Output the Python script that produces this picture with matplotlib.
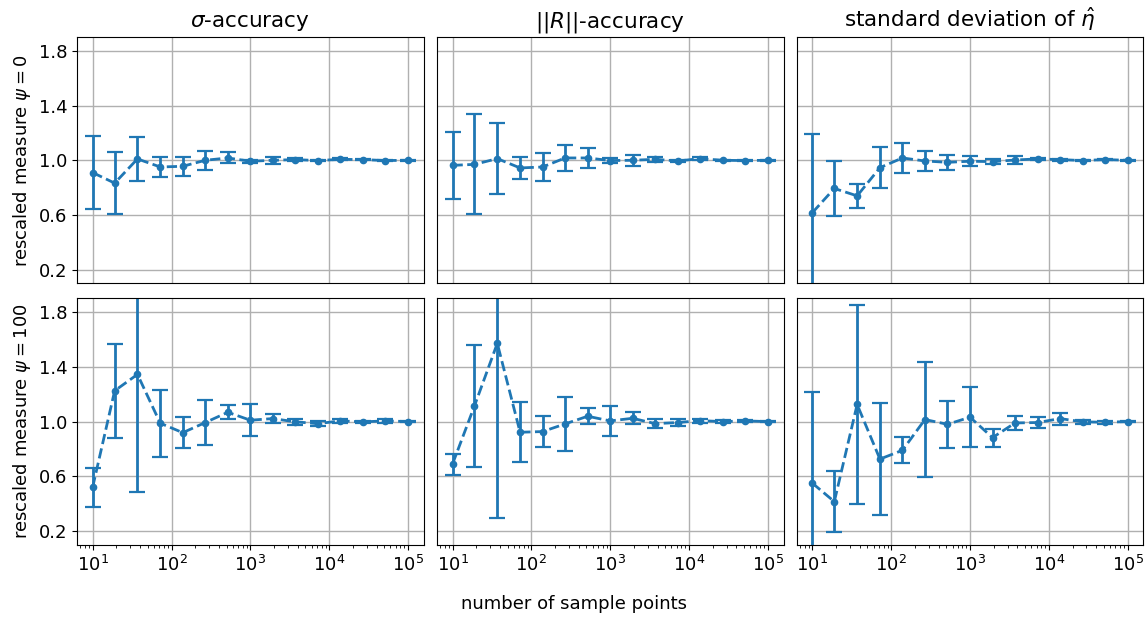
import numpy as np
import matplotlib
matplotlib.use("Agg")
import matplotlib.pyplot as plt

# sample sizes (log-spaced from 10 to 1e5)
n_samples = [10, 19, 37, 72, 139, 268, 518, 1000, 1931, 3728, 7197, 13895, 26827, 51795, 100000]

titles = [r"$\sigma$-accuracy", r"$||R||$-accuracy", r"standard deviation of $\hat{\eta}$"]
psi_values = [0, 100]

# psi = 0
sigma_psi0 = [0.91, 0.833, 1.01, 0.951, 0.956, 1.0, 1.017, 0.993, 1.0, 1.005, 0.998, 1.007, 1.005, 0.998, 1.0]
sigma_psi0_err = [0.264, 0.227, 0.162, 0.07, 0.071, 0.07, 0.04, 0.01, 0.027, 0.01, 0.005, 0.008, 0.005, 0.004, 0.003]
rnorm_psi0 = [0.963, 0.97, 1.012, 0.944, 0.951, 1.017, 1.017, 0.998, 1.0, 1.007, 0.995, 1.012, 1.0, 0.998, 1.0]
rnorm_psi0_err = [0.247, 0.366, 0.262, 0.083, 0.105, 0.095, 0.072, 0.02, 0.04, 0.02, 0.005, 0.01, 0.005, 0.004, 0.003]
eta_psi0 = [0.617, 0.794, 0.74, 0.946, 1.017, 0.995, 0.985, 0.993, 0.99, 1.002, 1.01, 1.005, 0.998, 1.005, 1.0]
eta_psi0_err = [0.572, 0.201, 0.09, 0.15, 0.107, 0.074, 0.054, 0.035, 0.02, 0.032, 0.01, 0.007, 0.005, 0.004, 0.003]

# psi = 100
sigma_psi100 = [0.521, 1.225, 1.345, 0.988, 0.919, 0.993, 1.068, 1.01, 1.022, 0.998, 0.985, 1.005, 0.998, 1.005, 1.0]
sigma_psi100_err = [0.142, 0.344, 0.861, 0.246, 0.111, 0.166, 0.05, 0.118, 0.034, 0.02, 0.02, 0.012, 0.008, 0.012, 0.005]
rnorm_psi100 = [0.689, 1.115, 1.572, 0.922, 0.927, 0.983, 1.039, 1.005, 1.024, 0.985, 0.993, 1.007, 1.0, 1.005, 1.0]
rnorm_psi100_err = [0.076, 0.445, 1.276, 0.218, 0.114, 0.2, 0.059, 0.109, 0.043, 0.032, 0.025, 0.015, 0.012, 0.01, 0.006]
eta_psi100 = [0.55, 0.415, 1.125, 0.726, 0.79, 1.015, 0.98, 1.032, 0.883, 0.99, 0.993, 1.022, 0.998, 0.995, 1.0]
eta_psi100_err = [0.668, 0.225, 0.724, 0.41, 0.094, 0.42, 0.174, 0.218, 0.066, 0.05, 0.042, 0.044, 0.015, 0.01, 0.005]

results = [
    [(sigma_psi0, sigma_psi0_err), (rnorm_psi0, rnorm_psi0_err), (eta_psi0, eta_psi0_err)],
    [(sigma_psi100, sigma_psi100_err), (rnorm_psi100, rnorm_psi100_err), (eta_psi100, eta_psi100_err)],
]

plt.rcParams['font.family'] = 'DejaVu Sans'
plt.rcParams['font.size'] = 13

fig, axes = plt.subplots(2, 3, figsize=(11.48, 6.19), dpi=100, sharex=True, sharey=True)

for i, row in enumerate(results):
    for j, (vals, errs) in enumerate(row):
        ax = axes[i, j]
        ax.errorbar(n_samples, vals, yerr=errs, fmt='--o', color='tab:blue',
                    markersize=4.5, capsize=6, linewidth=2, elinewidth=2, capthick=1.6)
        ax.set_xscale('log')
        ax.grid(True, color='#b0b0b0', linewidth=1)
        ax.set_axisbelow(True)
        if i == 0:
            ax.set_title(titles[j], fontsize=15.5, pad=7)
            ax.tick_params(axis='x', which='both', bottom=False)
        if j == 0:
            ax.set_ylabel(rf"rescaled measure $\psi = {psi_values[i]}$")
        else:
            ax.tick_params(axis='y', which='both', left=False)

# 5% log margin around 10 .. 1e5
axes[0, 0].set_xlim(10 ** 0.8, 10 ** 5.2)
axes[0, 0].set_ylim(0.1, 1.9)
axes[0, 0].set_yticks([0.2, 0.6, 1.0, 1.4, 1.8])
axes[0, 0].set_xticks([1e1, 1e2, 1e3, 1e4, 1e5])

fig.supxlabel("number of sample points", fontsize=13, y=0.01)
fig.subplots_adjust(left=0.067, right=0.996, top=0.94, bottom=0.12, wspace=0.0375, hspace=0.061)

fig.savefig("out.png")
